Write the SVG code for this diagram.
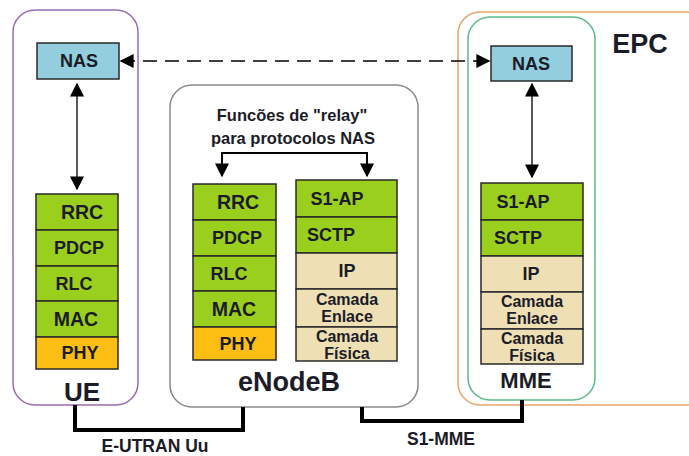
<svg xmlns="http://www.w3.org/2000/svg" width="689" height="456" viewBox="0 0 689 456">
  <defs>
    <style>
      text { font-family: "Liberation Sans", Arial, sans-serif; font-weight: bold; fill: #1c1c28; text-anchor: middle; }
      .lay { stroke: #2a2a2a; stroke-width: 1.5; }
      .nas { fill: #93CEDE; }
      .grn { fill: #9BCF1E; }
      .org { fill: #FDBE14; }
      .bge { fill: #EEDFB5; }
      .t17 { font-size: 19.5px; }
      .t15 { font-size: 18px; }
      .t13 { font-size: 16px; }
      .conn { fill: none; stroke: #000; stroke-width: 4; }
      .arr { fill: none; stroke: #222; stroke-width: 1.5; }
    </style>
    <marker id="ahB" viewBox="0 0 10 10" refX="9" refY="5" markerWidth="14" markerHeight="14" markerUnits="userSpaceOnUse" orient="auto-start-reverse">
      <path d="M0,0 L10,5 L0,10 Z" fill="#000"/>
    </marker>
  </defs>
  <rect width="689" height="456" fill="#fff"/>

  <!-- EPC domain -->
  <g id="epc">
    <rect x="458" y="12" width="250" height="393" rx="22" fill="none" stroke="#E9A46A" stroke-width="1.5"/>
    <text x="640" y="53" font-size="27">EPC</text>
  </g>

  <!-- UE -->
  <g id="ue">
    <rect x="13" y="10" width="125" height="395" rx="22" fill="#fff" stroke="#9C6BAE" stroke-width="1.5"/>
    <rect class="lay nas" x="37" y="43" width="82" height="36"/>
    <text class="t15" x="79" y="67">NAS</text>
    <rect class="lay grn" x="36" y="194" width="82" height="36"/>
    <rect class="lay grn" x="36" y="230" width="82" height="36"/>
    <rect class="lay grn" x="36" y="266" width="82" height="35"/>
    <rect class="lay grn" x="36" y="301" width="82" height="36"/>
    <rect class="lay org" x="36" y="337" width="82" height="32"/>
    <text class="t17" x="82" y="219">RRC</text>
    <text class="t15" x="79" y="254">PDCP</text>
    <text class="t15" x="74" y="290">RLC</text>
    <text class="t17" x="76" y="326">MAC</text>
    <text class="t15" x="80" y="359">PHY</text>
    <text x="82" y="401" font-size="26">UE</text>
  </g>

  <!-- eNodeB -->
  <g id="enodeb">
    <rect x="170" y="85" width="248" height="322" rx="22" fill="#fff" stroke="#8a8a8a" stroke-width="1.5"/>
    <text x="292" y="121" font-size="16.5">Funcões  de "relay"</text>
    <text x="293" y="144" font-size="16.5">para protocolos NAS</text>
    <rect class="lay grn" x="193" y="184" width="83" height="36"/>
    <rect class="lay grn" x="193" y="220" width="83" height="36"/>
    <rect class="lay grn" x="193" y="256" width="83" height="35"/>
    <rect class="lay grn" x="193" y="291" width="83" height="36"/>
    <rect class="lay org" x="193" y="327" width="83" height="33"/>
    <text class="t17" x="238" y="209">RRC</text>
    <text class="t15" x="237" y="244">PDCP</text>
    <text class="t15" x="229" y="280">RLC</text>
    <text class="t17" x="234" y="316">MAC</text>
    <text class="t15" x="238" y="350">PHY</text>
    <rect class="lay grn" x="296" y="180" width="101" height="37"/>
    <rect class="lay grn" x="296" y="217" width="101" height="36"/>
    <rect class="lay bge" x="296" y="253" width="101" height="36"/>
    <rect class="lay bge" x="296" y="289" width="101" height="38"/>
    <rect class="lay bge" x="296" y="327" width="101" height="34"/>
    <text class="t15" x="337" y="205">S1-AP</text>
    <text class="t15" x="331" y="241">SCTP</text>
    <text class="t15" x="347" y="277">IP</text>
    <text class="t13" x="347" y="305">Camada</text>
    <text class="t13" x="347" y="322">Enlace</text>
    <text class="t13" x="347" y="342">Camada</text>
    <text class="t13" x="347" y="359">Física</text>
    <text x="289" y="391" font-size="27">eNodeB</text>
  </g>

  <!-- MME -->
  <g id="mme">
    <rect x="468" y="17" width="127" height="383" rx="22" fill="#fff" stroke="#5BBB8A" stroke-width="1.5"/>
    <rect class="lay nas" x="491" y="46" width="81" height="35"/>
    <text class="t15" x="531" y="70">NAS</text>
    <rect class="lay grn" x="481" y="183" width="102" height="37"/>
    <rect class="lay grn" x="481" y="220" width="102" height="36"/>
    <rect class="lay bge" x="481" y="256" width="102" height="36"/>
    <rect class="lay bge" x="481" y="292" width="102" height="37"/>
    <rect class="lay bge" x="481" y="329" width="102" height="35"/>
    <text class="t15" x="523" y="208">S1-AP</text>
    <text class="t15" x="518" y="244">SCTP</text>
    <text class="t15" x="531" y="280">IP</text>
    <text class="t13" x="532" y="307">Camada</text>
    <text class="t13" x="532" y="324">Enlace</text>
    <text class="t13" x="532" y="344">Camada</text>
    <text class="t13" x="532" y="361">Física</text>
    <text x="526" y="388" font-size="22">MME</text>
  </g>

  <!-- connectors -->
  <g id="connectors">
    <line x1="121" y1="61" x2="489" y2="61" stroke="#000" stroke-width="1.5" stroke-dasharray="14,8" marker-start="url(#ahB)" marker-end="url(#ahB)"/>
    <line class="arr" x1="77" y1="84" x2="77" y2="189" marker-start="url(#ahB)" marker-end="url(#ahB)"/>
    <line class="arr" x1="532" y1="84" x2="532" y2="177" marker-start="url(#ahB)" marker-end="url(#ahB)"/>
    <polyline points="222,176 222,153 367,153 367,176" fill="none" stroke="#000" stroke-width="2" marker-start="url(#ahB)" marker-end="url(#ahB)"/>
    <polyline class="conn" points="75,405 75,430 243,430 243,407"/>
    <polyline class="conn" points="362,407 362,421 522,421 522,400"/>
    <text x="155" y="452" font-size="17.5">E-UTRAN Uu</text>
    <text x="441" y="445" font-size="17.5">S1-MME</text>
  </g>
</svg>
